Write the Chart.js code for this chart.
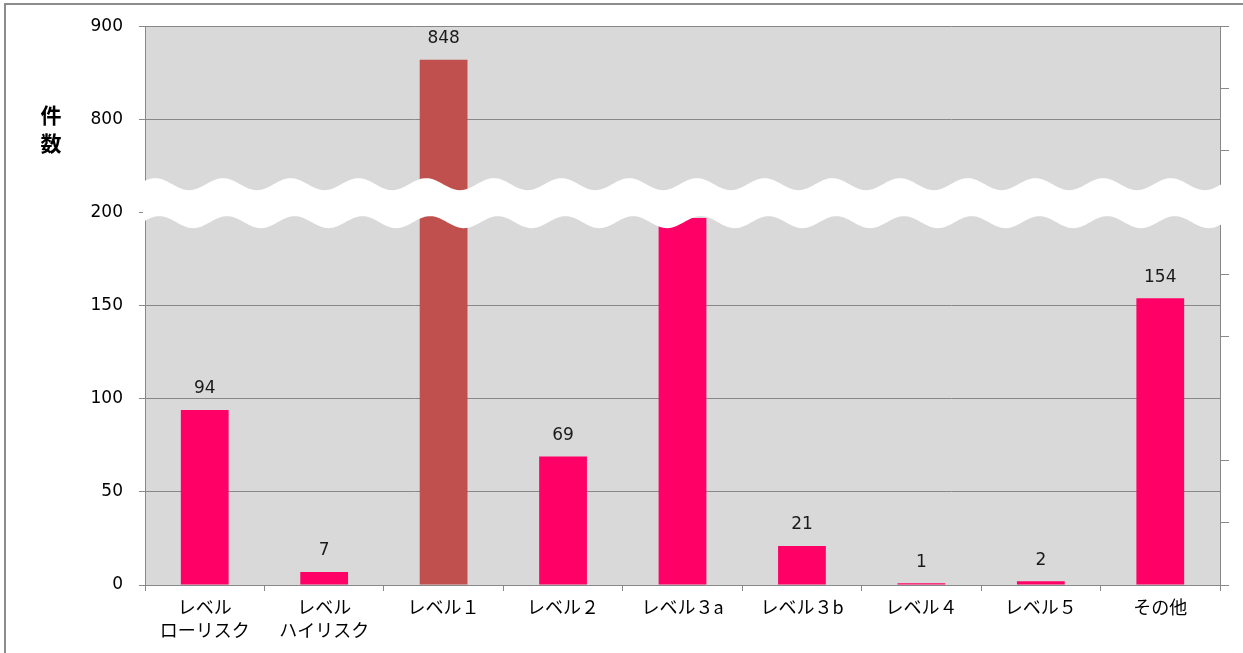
<!DOCTYPE html>
<html>
<head>
<meta charset="utf-8">
<script src="https://cdn.jsdelivr.net/npm/chart.js@4.4.0/dist/chart.umd.min.js"></script>
<style>
  html, body { margin: 0; padding: 0; background: #fff; }
  #wrap { width: 1243px; height: 653px; }
</style>
</head>
<body>
<div id="wrap"><canvas id="grafico" width="1243" height="653"></canvas></div>
<script>
// categorías y valores (eje con corte: 250 = 800, 300 = 900)
const categorias = [['レベル', 'ローリスク'], ['レベル', 'ハイリスク'], 'レベル１', 'レベル２', 'レベル３a', 'レベル３b', 'レベル４', 'レベル５', 'その他'];
const alturas = [94, 7, 282, 69, 197, 21, 1, 2, 154];
const etiquetas = ['94', '7', '848', '69', '', '21', '1', '2', '154'];
const colores = ['#FF0066', '#FF0066', '#C0504D', '#FF0066', '#FF0066', '#FF0066', '#FF0066', '#FF0066', '#FF0066'];
const ticksValores = [0, 50, 100, 150, 200, 250, 300];
const ticksTextos = ['0', '50', '100', '150', '200', '800', '900'];

const GRIS = '#888888';

const fondo = {
  id: 'fondo',
  beforeDraw(chart) {
    const { ctx, chartArea: a } = chart;
    ctx.save();
    ctx.fillStyle = '#fff';
    ctx.fillRect(0, 0, chart.width, chart.height);
    ctx.strokeStyle = '#8c8c8c';
    ctx.lineWidth = 2;
    ctx.beginPath();
    ctx.moveTo(5, chart.height);
    ctx.lineTo(5, 4);
    ctx.lineTo(chart.width, 4);
    ctx.stroke();
    ctx.fillStyle = '#D9D9D9';
    ctx.fillRect(a.left, a.top, a.right - a.left, a.bottom - a.top);
    ctx.restore();
  }
};

const valores = {
  id: 'valores',
  afterDatasetsDraw(chart) {
    const { ctx } = chart;
    ctx.save();
    ctx.fillStyle = '#1a1a1a';
    ctx.font = '17px "DejaVu Sans"';
    ctx.textAlign = 'center';
    ctx.textBaseline = 'middle';
    chart.getDatasetMeta(0).data.forEach((bar, i) => {
      if (etiquetas[i]) ctx.fillText(etiquetas[i], bar.x, bar.y - 21);
    });
    ctx.restore();
  }
};

const onda = {
  id: 'onda',
  afterDraw(chart) {
    const { ctx } = chart;
    const y = chart.scales.y;
    const cy = y.getPixelForValue(205);
    const x0 = chart.chartArea.left - 2, x1 = chart.chartArea.right + 12;
    const periodo = 67.7, amp = 6, mitad = 19;
    ctx.save();
    ctx.fillStyle = '#fff';
    ctx.beginPath();
    for (let x = x0; x <= x1; x++) {
      const yy = cy - mitad - amp * Math.cos(2 * Math.PI * (x - 223) / periodo);
      if (x === x0) ctx.moveTo(x, yy); else ctx.lineTo(x, yy);
    }
    for (let x = x1; x >= x0; x--) {
      ctx.lineTo(x, cy + mitad - amp * Math.cos(2 * Math.PI * (x - 227) / periodo));
    }
    ctx.closePath();
    ctx.fill();

    // título del eje
    ctx.fillStyle = '#000';
    ctx.font = 'bold 21px "Noto Sans CJK JP"';
    ctx.textAlign = 'center';
    ctx.textBaseline = 'middle';
    ctx.fillText('件', 51, 115);
    ctx.fillText('数', 51, 143);
    ctx.restore();
  }
};

new Chart(document.getElementById('grafico'), {
  type: 'bar',
  data: {
    labels: categorias,
    datasets: [{
      data: alturas,
      backgroundColor: colores,
      categoryPercentage: 1,
      barPercentage: 0.4
    }]
  },
  options: {
    responsive: false,
    animation: false,
    devicePixelRatio: 1,
    layout: { padding: { top: 25, left: 0, right: 0, bottom: 0 } },
    plugins: {
      legend: { display: false },
      tooltip: { enabled: false }
    },
    scales: {
      x: {
        grid: { offset: true, drawOnChartArea: false, color: GRIS, tickLength: 6 },
        border: { color: GRIS },
        ticks: {
          color: '#000',
          font: { family: '"Noto Sans CJK JP"', size: 18, lineHeight: 1.3 },
          padding: 4,
          maxRotation: 0,
          autoSkip: false
        },
        afterFit(s) { s.height = 68; }
      },
      y: {
        min: 0,
        max: 300,
        afterBuildTicks(s) { s.ticks = ticksValores.map(v => ({ value: v })); },
        ticks: {
          color: '#000',
          font: { family: '"DejaVu Sans"', size: 17 },
          padding: 16,
          callback: v => ticksTextos[ticksValores.indexOf(v)]
        },
        grid: { color: GRIS, tickLength: 6 },
        border: { color: GRIS },
        afterFit(s) { s.width = 145; }
      },
      y2: {
        position: 'right',
        min: 0,
        max: 9,
        ticks: { display: false, stepSize: 1 },
        grid: {
          drawOnChartArea: false,
          tickLength: 9,
          color: c => (c.tick && c.tick.value === 3) ? 'rgba(0,0,0,0)' : GRIS
        },
        border: { color: GRIS },
        afterFit(s) { s.width = 23; }
      }
    }
  },
  plugins: [fondo, valores, onda]
});
</script>
</body>
</html>
